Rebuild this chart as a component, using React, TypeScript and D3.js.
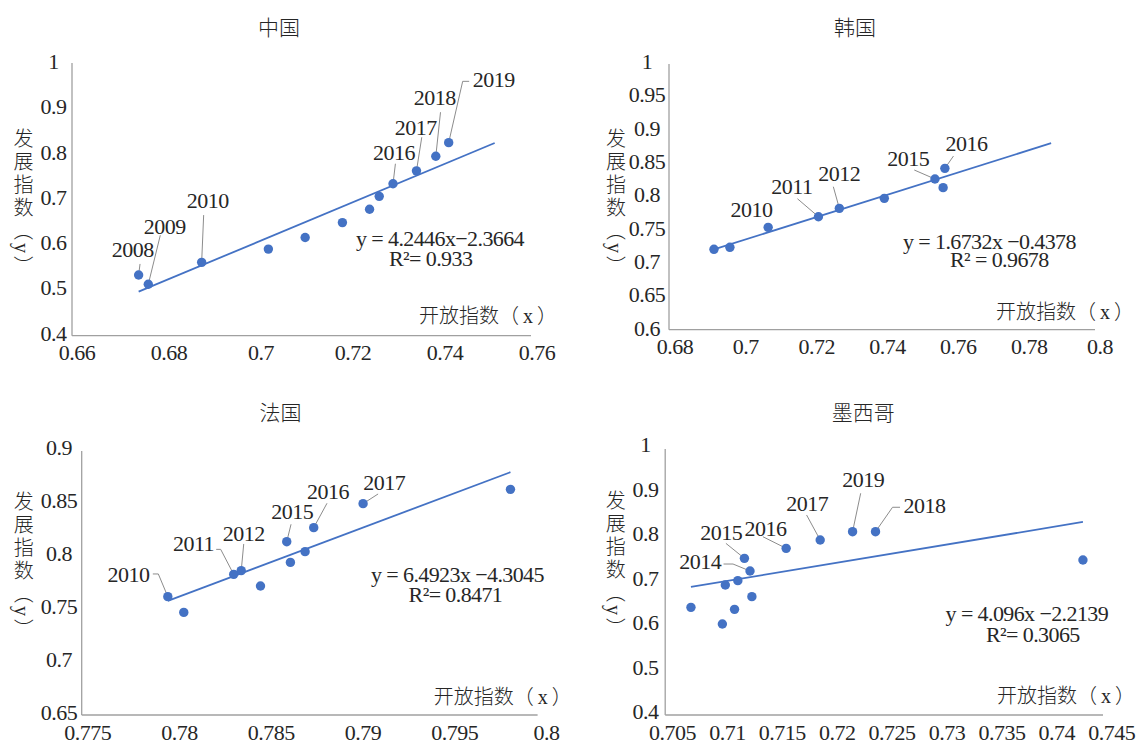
import React from 'react';
import * as d3 from 'd3';

// ---------------- data ----------------
// 中国
const chinaX = [0.6734, 0.6755, 0.6871, 0.7016, 0.7096, 0.7177, 0.7236, 0.7257, 0.7287, 0.7338, 0.738, 0.7408];
const chinaY = [0.5289, 0.5084, 0.5567, 0.586, 0.6117, 0.6446, 0.674, 0.7025, 0.7304, 0.7589, 0.7912, 0.8212];
const chinaYears = ['2008', '2009', '2010', '', '', '', '', '', '2016', '2017', '2018', '2019'];
const chinaXTicks = [0.66, 0.68, 0.7, 0.72, 0.74, 0.76];
const chinaYTicks = [0.4, 0.5, 0.6, 0.7, 0.8, 0.9, 1];
const chinaFit = [4.2446, -2.3664, 0.01];
const chinaEquation = ['y = 4.2446x\u22122.3664', 'R\u00B2= 0.933'];

// 韩国
const koreaX = [0.691, 0.6955, 0.7063, 0.7205, 0.7264, 0.7391, 0.7534, 0.7557, 0.7562];
const koreaY = [0.7185, 0.7215, 0.7515, 0.7674, 0.78, 0.795, 0.824, 0.811, 0.84];
const koreaYears = ['', '', '2010', '2011', '2012', '', '2015', '', '2016'];
const koreaXTicks = [0.68, 0.7, 0.72, 0.74, 0.76, 0.78, 0.8];
const koreaYTicks = [0.6, 0.65, 0.7, 0.75, 0.8, 0.85, 0.9, 0.95, 1];
const koreaFit = [1.6732, -0.4378, 0.03];
const koreaEquation = ['y = 1.6732x \u22120.4378', 'R\u00B2 = 0.9678'];

// 法国
const franceX = [0.77936, 0.78023, 0.78295, 0.78336, 0.78441, 0.78584, 0.78604, 0.78684, 0.78731, 0.79, 0.79803];
const franceY = [0.7593, 0.7445, 0.7803, 0.7838, 0.7693, 0.8111, 0.7916, 0.8017, 0.8243, 0.8469, 0.8604];
const franceYears = ['2010', '', '2011', '2012', '', '2015', '', '', '2016', '2017', ''];
const franceXTicks = [0.775, 0.78, 0.785, 0.79, 0.795, 0.8];
const franceYTicks = [0.65, 0.7, 0.75, 0.8, 0.85, 0.9];
const franceFit = [6.4923, -4.3045, 0];
const franceEquation = ['y = 6.4923x \u22124.3045', 'R\u00B2= 0.8471'];

// 墨西哥
const mexicoX = [0.70668, 0.70954, 0.70981, 0.71065, 0.71095, 0.71155, 0.71206, 0.71223, 0.71535, 0.71845, 0.7214, 0.72349, 0.74238];
const mexicoY = [0.6348, 0.5973, 0.685, 0.6303, 0.6948, 0.745, 0.7165, 0.6588, 0.7675, 0.7863, 0.805, 0.805, 0.7413];
const mexicoYears = ['', '', '', '', '', '2015', '2014', '', '2016', '2017', '2019', '2018', ''];
const mexicoXTicks = [0.705, 0.71, 0.715, 0.72, 0.725, 0.73, 0.735, 0.74, 0.745];
const mexicoYTicks = [0.4, 0.5, 0.6, 0.7, 0.8, 0.9, 1];
const mexicoFit = [4.096, -2.2139, 0];
const mexicoEquation = ['y = 4.096x \u22122.2139', 'R\u00B2= 0.3065'];

const yAxisTitle = '发展指数（y）';
const xAxisTitle = '开放指数（\u2009x\u2009）';

// ---------------- layout ----------------
type Lbl = { dx: number; dy: number; lead?: number[][] };

const chinaLabels: Record<string, Lbl> = {
  '2008': { dx: -6, dy: -25, lead: [[1.4, -11]] },
  '2009': { dx: 16.5, dy: -57.6, lead: [[12, -49]] },
  '2010': { dx: 6, dy: -61.6, lead: [[2, -47.3]] },
  '2016': { dx: 1, dy: -30.6, lead: [[2.4, -20]] },
  '2017': { dx: -0.7, dy: -43.6, lead: [[5.3, -33.6]] },
  '2018': { dx: -1, dy: -58.4, lead: [[4.7, -44]] },
  '2019': { dx: 45, dy: -62.7, lead: [[20.5, -61.3], [14, -61.3]] },
};
const koreaLabels: Record<string, Lbl> = {
  '2010': { dx: -16.6, dy: -18 },
  '2011': { dx: -26.6, dy: -30, lead: [[-21, -18]] },
  '2012': { dx: 0, dy: -34.3, lead: [[-6, -21.6]] },
  '2015': { dx: -26.7, dy: -20.7, lead: [[-20.7, -9]] },
  '2016': { dx: 21.5, dy: -25, lead: [[8.6, -12.3]] },
};
const franceLabels: Record<string, Lbl> = {
  '2010': { dx: -39.4, dy: -22.4, lead: [[-15, -22.7], [-9.5, -22.7]] },
  '2011': { dx: -40.2, dy: -30.3, lead: [[-17.5, -25], [-13, -25]] },
  '2012': { dx: 2.5, dy: -36.7, lead: [[2.5, -26.7]] },
  '2015': { dx: 5.4, dy: -30, lead: [[4.3, -17.4]] },
  '2016': { dx: 14.4, dy: -36, lead: [[13.3, -24.4]] },
  '2017': { dx: 21.1, dy: -21, lead: [[15, -9.7]] },
};
const mexicoLabels: Record<string, Lbl> = {
  '2014': { dx: -49.8, dy: -9.3, lead: [[-26.5, -7], [-17, -7]] },
  '2015': { dx: -23.2, dy: -25.6, lead: [[-18.5, -15]] },
  '2016': { dx: -20.7, dy: -20, lead: [[-23.2, -11.6]] },
  '2017': { dx: -12.9, dy: -36, lead: [[-13.6, -25]] },
  '2019': { dx: 10.7, dy: -52.4, lead: [[8.1, -38.4]] },
  '2018': { dx: 49.1, dy: -25.7, lead: [[24.5, -24.4], [17, -24.4]] },
};

const panels = [
  {
    title: '中国', xs: chinaX, ys: chinaY, years: chinaYears, xTicks: chinaXTicks, yTicks: chinaYTicks,
    fit: chinaFit, eqText: chinaEquation, labels: chinaLabels,
    titleX: 279, titleY: 27, xRange: [77, 537], yRange: [333.3, 61.7],
    axisX: 72, axisY: 335.7, xAxisEnd: 531, yAxisTop: 63, yLabelX: 53.5, xLabelY: 353,
    yTitleX: 22, yTitleTop: 128, xTitleX: 419, xTitleY: 315, eq: [[356, 238.3], [389, 258.3]],
  },
  {
    title: '韩国', xs: koreaX, ys: koreaY, years: koreaYears, xTicks: koreaXTicks, yTicks: koreaYTicks,
    fit: koreaFit, eqText: koreaEquation, labels: koreaLabels,
    titleX: 855, titleY: 27, xRange: [675, 1100], yRange: [328.3, 61.7],
    axisX: 669, axisY: 329.7, xAxisEnd: 1095, yAxisTop: 64, yLabelX: 647, xLabelY: 347,
    yTitleX: 614.5, yTitleTop: 128, xTitleX: 996, xTitleY: 311.7, eq: [[903, 241.7], [950, 260]],
  },
  {
    title: '法国', xs: franceX, ys: franceY, years: franceYears, xTicks: franceXTicks, yTicks: franceYTicks,
    fit: franceFit, eqText: franceEquation, labels: franceLabels,
    titleX: 280.6, titleY: 411.7, xRange: [87.8, 546.6], yRange: [712.7, 447.3],
    axisX: 81.7, axisY: 715, xAxisEnd: 537.6, yAxisTop: 451, yLabelX: 59, xLabelY: 733,
    yTitleX: 22.2, yTitleTop: 491, xTitleX: 433.7, xTitleY: 696.7, eq: [[371, 575], [408.6, 595]],
  },
  {
    title: '墨西哥', xs: mexicoX, ys: mexicoY, years: mexicoYears, xTicks: mexicoXTicks, yTicks: mexicoYTicks,
    fit: mexicoFit, eqText: mexicoEquation, labels: mexicoLabels,
    titleX: 863.3, titleY: 411.7, xRange: [672.5, 1111.7], yRange: [711.7, 445],
    axisX: 665.2, axisY: 715, xAxisEnd: 1103, yAxisTop: 449, yLabelX: 645.5, xLabelY: 733,
    yTitleX: 614.2, yTitleTop: 490, xTitleX: 997, xTitleY: 695, eq: [[945.6, 613.3], [986, 635]],
  },
];

const SERIF = "'Liberation Serif', 'Times New Roman', 'Noto Sans CJK SC', serif";
const CJK = "'Noto Sans CJK SC', sans-serif";
const TEXT = '#262626';
const BLUE = '#4472C4';
const AXIS = '#a0a0a0';
const LEAD = '#8c8c8c';

const fmt = (v: number) => String(+v.toFixed(3));

function Panel({ p }: { p: any }) {
  const x = d3.scaleLinear().domain([p.xTicks[0], p.xTicks[p.xTicks.length - 1]]).range(p.xRange);
  const y = d3.scaleLinear().domain([p.yTicks[0], p.yTicks[p.yTicks.length - 1]]).range(p.yRange);
  const [slope, intercept, forward] = p.fit;
  const x0 = d3.min(p.xs as number[]) as number;
  const x1 = (d3.max(p.xs as number[]) as number) + forward;
  const trend = d3.line<number>().x((v) => x(v)).y((v) => y(slope * v + intercept))([x0, x1]) || '';
  const pts = (p.xs as number[]).map((v, i) => ({ px: x(v), py: y(p.ys[i]), year: p.years[i] as string }));
  const lineGen = d3.line<number[]>().x((d) => d[0]).y((d) => d[1]);

  return (
    <g>
      <text x={p.titleX} y={p.titleY + 8} textAnchor="middle" fontFamily={CJK} fontSize={21} fontWeight={300}
        fill={TEXT}>
        {p.title}
      </text>
      {/* axes */}
      <line x1={p.axisX} x2={p.axisX} y1={p.yAxisTop} y2={p.axisY} stroke={AXIS} strokeWidth={1.3} />
      <line x1={p.axisX} x2={p.xAxisEnd} y1={p.axisY} y2={p.axisY} stroke={AXIS} strokeWidth={1.3} />
      {p.yTicks.map((t: number) => (
        <text key={'y' + t} x={p.yLabelX} y={y(t) + 7.3} textAnchor="middle" fontFamily={SERIF} fontSize={22}
          letterSpacing={-0.5} fill={TEXT}>
          {fmt(t)}
        </text>
      ))}
      {p.xTicks.map((t: number) => (
        <text key={'x' + t} x={x(t)} y={p.xLabelY + 7.3} textAnchor="middle" fontFamily={SERIF} fontSize={22}
          letterSpacing={-0.5} fill={TEXT}>
          {fmt(t)}
        </text>
      ))}
      {/* axis titles */}
      <text x={p.yTitleX} y={p.yTitleTop} fontFamily={SERIF} fontSize={20} letterSpacing={3} fontWeight={300}
        fill={TEXT} style={{ writingMode: 'vertical-rl' as any }}>
        {yAxisTitle}
      </text>
      <text x={p.xTitleX} y={p.xTitleY + 7.5} fontFamily={SERIF} fontSize={20} fontWeight={300} fill={TEXT}>
        {xAxisTitle}
      </text>
      {/* trend line */}
      <path d={trend} fill="none" stroke={BLUE} strokeWidth={1.8} />
      {/* leaders */}
      {pts.map((pt, i) => {
        const l = pt.year ? p.labels[pt.year] : null;
        if (!l || !l.lead) return null;
        const path = [...l.lead.map((o: number[]) => [pt.px + o[0], pt.py + o[1]]), [pt.px, pt.py]];
        return <path key={'l' + i} d={lineGen(path) || ''} fill="none" stroke={LEAD} strokeWidth={1} />;
      })}
      {/* markers */}
      {pts.map((pt, i) => (
        <circle key={'c' + i} cx={pt.px} cy={pt.py} r={4.7} fill={BLUE} />
      ))}
      {/* data labels */}
      {pts.map((pt, i) => {
        const l = pt.year ? p.labels[pt.year] : null;
        if (!l) return null;
        return (
          <text key={'t' + i} x={pt.px + l.dx} y={pt.py + l.dy + 7.3} textAnchor="middle" fontFamily={SERIF}
            fontSize={22} letterSpacing={-0.5} fill={TEXT}>
            {pt.year}
          </text>
        );
      })}
      {/* equation */}
      {p.eqText.map((s: string, i: number) => (
        <text key={'e' + i} x={p.eq[i][0]} y={p.eq[i][1] + 7.3} fontFamily={SERIF} fontSize={22}
          letterSpacing={-0.6} fill={TEXT}>
          {s}
        </text>
      ))}
    </g>
  );
}

export default function App() {
  return (
    <svg width={1137} height={742} viewBox="0 0 1137 742"
      style={{ position: 'absolute', left: 0, top: 0, background: '#fff' }}>
      <rect x={0} y={0} width={1137} height={742} fill="#fff" />
      {panels.map((p) => (
        <Panel key={p.title} p={p} />
      ))}
    </svg>
  );
}
